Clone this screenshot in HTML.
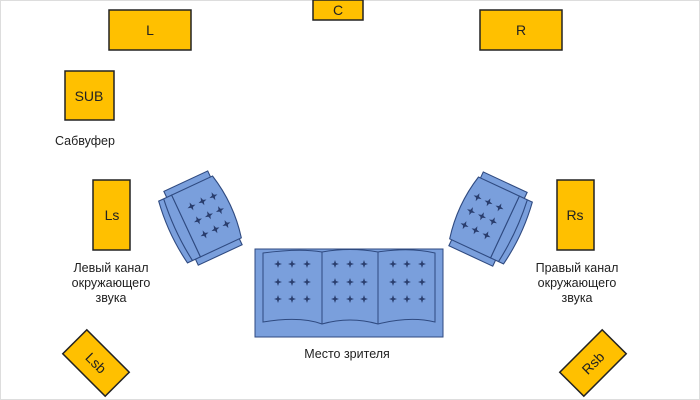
<!DOCTYPE html>
<html><head><meta charset="utf-8"><style>
html,body{margin:0;padding:0;background:#fff}
svg{display:block}
text{font-family:"Liberation Sans",sans-serif;fill:#222}
</style></head><body>
<svg width="700" height="400" viewBox="0 0 700 400" xmlns="http://www.w3.org/2000/svg">
<defs>
<path id="st" d="M0,-4 L1,-1 L4,0 L1,1 L0,4 L-1,1 L-4,0 L-1,-1Z" fill="#2a3e6e"/>
<g id="chair" stroke="#2f4a80" stroke-width="1" fill="#7a9fdc">
  <rect x="-20" y="-37" width="44" height="7"/>
  <rect x="-20" y="30" width="44" height="7"/>
  <path d="M-28,-31 L-15,-31 L-15,31 L-28,31 Q-33,0 -28,-31Z"/>
  <path d="M-15,-31 L26,-31 Q33,0 26,31 L-15,31Z"/>
  <path d="M-23,-31 Q-27,0 -23,31" fill="none"/>
  <use href="#st" x="-3" y="-14" stroke="none"/><use href="#st" x="8" y="-14" stroke="none"/><use href="#st" x="19" y="-14" stroke="none"/>
  <use href="#st" x="-3" y="0" stroke="none"/><use href="#st" x="8" y="0" stroke="none"/><use href="#st" x="19" y="0" stroke="none"/>
  <use href="#st" x="-3" y="14" stroke="none"/><use href="#st" x="8" y="14" stroke="none"/><use href="#st" x="19" y="14" stroke="none"/>
</g>
</defs>
<rect x="0.5" y="0.5" width="699" height="399" fill="none" stroke="#ddd"/>
<g fill="#ffc000" stroke="#222" stroke-width="1.5">
<rect x="109" y="10" width="82" height="40"/>
<rect x="313" y="0" width="50" height="20"/>
<rect x="480" y="10" width="82" height="40"/>
<rect x="65" y="71" width="49" height="49"/>
<rect x="93" y="180" width="37" height="70"/>
<rect x="557" y="180" width="37" height="70"/>
<rect x="-30" y="-17" width="60" height="34" transform="translate(96,363) rotate(45)"/>
<rect x="-30" y="-17" width="60" height="34" transform="translate(593,363) rotate(-45)"/>
</g>
<g font-size="14" text-anchor="middle">
<text x="150" y="35">L</text>
<text x="338" y="15">C</text>
<text x="521" y="35">R</text>
<text x="89" y="101">SUB</text>
<text x="112" y="220">Ls</text>
<text x="575" y="220">Rs</text>
<text transform="translate(96,363) rotate(45)" y="5">Lsb</text>
<text transform="translate(593,363) rotate(-45)" y="5">Rsb</text>
</g>
<g font-size="12.5">
<text x="55" y="145">Сабвуфер</text>
<text x="111" y="272" text-anchor="middle">Левый канал</text>
<text x="111" y="287" text-anchor="middle">окружающего</text>
<text x="111" y="302" text-anchor="middle">звука</text>
<text x="577" y="272" text-anchor="middle">Правый канал</text>
<text x="577" y="287" text-anchor="middle">окружающего</text>
<text x="577" y="302" text-anchor="middle">звука</text>
<text x="347" y="358" text-anchor="middle">Место зрителя</text>
</g>
<use href="#chair" transform="translate(201,219) rotate(-25) scale(1.1)"/>
<use href="#chair" transform="translate(490,220) rotate(25) scale(-1.1,1.1)"/>
<g stroke="#2f4a80" stroke-width="1" fill="#7a9fdc">
<rect x="255" y="249" width="188" height="88"/>
<path d="M263,322 L263,253 Q300,248 322,252 Q350,247 378,252 Q410,247 435,253 L435,322 Q410,316 378,324 Q350,316 322,324 Q300,316 263,322Z"/>
<path d="M322,252 L322,324 M378,252 L378,324" fill="none"/>
</g>
<g>
<use href="#st" x="278" y="264"/><use href="#st" x="292" y="264"/><use href="#st" x="307" y="264"/>
<use href="#st" x="278" y="282"/><use href="#st" x="292" y="282"/><use href="#st" x="307" y="282"/>
<use href="#st" x="278" y="299"/><use href="#st" x="292" y="299"/><use href="#st" x="307" y="299"/>
<use href="#st" x="335" y="264"/><use href="#st" x="350" y="264"/><use href="#st" x="364" y="264"/>
<use href="#st" x="335" y="282"/><use href="#st" x="350" y="282"/><use href="#st" x="364" y="282"/>
<use href="#st" x="335" y="299"/><use href="#st" x="350" y="299"/><use href="#st" x="364" y="299"/>
<use href="#st" x="393" y="264"/><use href="#st" x="407" y="264"/><use href="#st" x="422" y="264"/>
<use href="#st" x="393" y="282"/><use href="#st" x="407" y="282"/><use href="#st" x="422" y="282"/>
<use href="#st" x="393" y="299"/><use href="#st" x="407" y="299"/><use href="#st" x="422" y="299"/>
</g>
</svg>
</body></html>
